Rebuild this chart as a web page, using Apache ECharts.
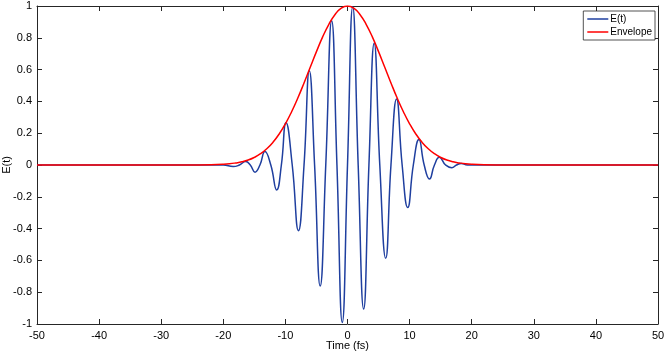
<!DOCTYPE html>
<html>
<head>
<meta charset="utf-8">
<script src="https://cdn.jsdelivr.net/npm/echarts@6/dist/echarts.min.js"></script>
<style>
  html, body { margin: 0; padding: 0; background: #fff; }
  #chart { width: 665px; height: 357px; }
</style>
</head>
<body>
<div id="chart"></div>
<script>
// E(t): extrema and zero crossings
const eTime = [-50, -22, -20.0, -18.4, -17.4, -16.4, -15.65, -14.9, -14.1, -13.3, -12.35, -11.4, -10.65, -9.9,
  -8.9, -7.9, -7.0, -6.15, -5.3, -4.4, -3.5, -2.55, -1.7, -0.84, 0, 0.84, 1.72, 2.6, 3.45, 4.3,
  5.2, 6.15, 7.0, 7.9, 8.8, 9.7, 10.6, 11.5, 12.35, 13.2, 14.0, 14.8, 15.8, 16.8, 17.55, 18.3, 19.3, 22, 50];
const eValue = [0, 0, 0, -0.01, 0, 0.022, 0, -0.045, 0, 0.085, 0, -0.157, 0, 0.266,
  0, -0.413, 0, 0.593, 0, -0.761, 0, 0.907, 0, -0.99, 0, 0.995, 0, -0.906, 0, 0.765,
  0, -0.587, 0, 0.415, 0, -0.268, 0, 0.16, 0, -0.088, 0, 0.048, 0, -0.017, 0, 0.01, 0, 0, 0];

// envelope
const envTime = [-50, -24, -22, -20, -19, -18, -17, -16, -15, -14, -13, -12, -11, -10, -9, -8, -7, -6, -5, -4, -3, -2, -1, 0,
  1, 2, 3, 4, 5, 6, 7, 8, 9, 10, 11, 12, 13, 14, 15, 16, 17, 18, 19, 20, 22, 24, 50];
const envValue = [0, 0.0004, 0.0014, 0.0045, 0.0076, 0.013, 0.02, 0.031, 0.048, 0.071, 0.102, 0.143, 0.195, 0.259, 0.335, 0.421, 0.516, 0.615, 0.713, 0.806, 0.885, 0.947, 0.987, 1,
  0.987, 0.947, 0.885, 0.806, 0.713, 0.615, 0.516, 0.421, 0.335, 0.259, 0.195, 0.143, 0.102, 0.071, 0.048, 0.031, 0.02, 0.013, 0.0076, 0.0045, 0.0014, 0.0004, 0];

const axisColor = '#262626';
const font = 'Liberation Sans, Arial, sans-serif';

const chart = echarts.init(document.getElementById('chart'));

const xBase = {
  type: 'value', min: -50, max: 50, interval: 10,
  axisLine: { onZero: false, lineStyle: { color: axisColor, width: 1 } },
  axisTick: { inside: true, length: 5, lineStyle: { color: axisColor } },
  splitLine: { show: false }
};
const yBase = {
  type: 'value', min: -1, max: 1, interval: 0.2,
  axisLine: { onZero: false, lineStyle: { color: axisColor, width: 1 } },
  axisTick: { inside: true, length: 5, lineStyle: { color: axisColor } },
  splitLine: { show: false }
};

chart.setOption({
  animation: false,
  backgroundColor: '#fff',
  grid: { left: 37, right: 7, top: 6, bottom: 33, outerBoundsMode: 'none' },
  legend: {
    orient: 'vertical',
    right: 10, top: 11,
    padding: [3, 3, 3, 4],
    itemGap: 3,
    itemWidth: 21, itemHeight: 1.5,
    icon: 'rect',
    backgroundColor: '#fff',
    borderColor: axisColor, borderWidth: 0.8,
    textStyle: { fontFamily: font, fontSize: 10, color: '#000', padding: [0, 0, 0, -3] },
    data: ['E(t)', 'Envelope']
  },
  xAxis: [
    Object.assign({}, xBase, {
      position: 'bottom',
      name: 'Time (fs)', nameLocation: 'middle', nameGap: 16, nameMoveOverlap: false,
      nameTextStyle: { fontFamily: font, fontSize: 11, color: '#000' },
      axisLabel: { fontFamily: font, fontSize: 11, color: '#000', margin: 6 }
    }),
    Object.assign({}, xBase, { position: 'top', axisLabel: { show: false } })
  ],
  yAxis: [
    Object.assign({}, yBase, {
      position: 'left',
      name: 'E(t)', nameLocation: 'middle', nameGap: 25, nameMoveOverlap: false,
      nameTextStyle: { fontFamily: font, fontSize: 11, color: '#000' },
      axisLabel: { fontFamily: font, fontSize: 11, color: '#000', margin: 5 }
    }),
    Object.assign({}, yBase, { position: 'right', axisLabel: { show: false } })
  ],
  series: [
    {
      name: 'E(t)', type: 'line', smooth: true, showSymbol: false, symbol: 'none',
      color: '#1f3f9f',
      lineStyle: { width: 1.5, color: '#1f3f9f' },
      data: eTime.map((t, i) => [t, eValue[i]])
    },
    {
      name: 'Envelope', type: 'line', smooth: true, showSymbol: false, symbol: 'none',
      color: '#ff0000',
      lineStyle: { width: 1.5, color: '#ff0000' },
      data: envTime.map((t, i) => [t, envValue[i]])
    }
  ]
});
</script>
</body>
</html>
